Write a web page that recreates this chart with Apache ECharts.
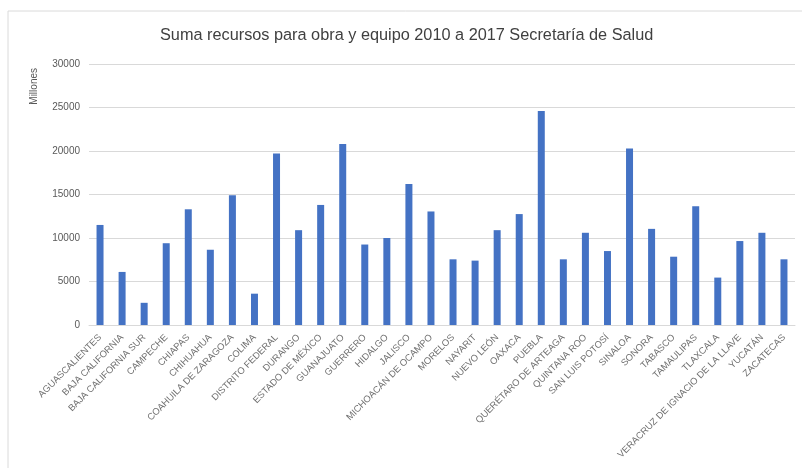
<!DOCTYPE html>
<html>
<head>
<meta charset="utf-8">
<script src="https://cdn.jsdelivr.net/npm/echarts@6/dist/echarts.min.js"></script>
<style>
  html, body { margin: 0; padding: 0; background: #ffffff; }
  #chart { width: 802px; height: 468px; }
</style>
</head>
<body>
<div id="chart"></div>
<script>
// Entidades federativas
const estados = [
  'AGUASCALIENTES', 'BAJA CALIFORNIA', 'BAJA CALIFORNIA SUR', 'CAMPECHE', 'CHIAPAS',
  'CHIHUAHUA', 'COAHUILA DE ZARAGOZA', 'COLIMA', 'DISTRITO FEDERAL', 'DURANGO',
  'ESTADO DE MÉXICO', 'GUANAJUATO', 'GUERRERO', 'HIDALGO', 'JALISCO',
  'MICHOACÁN DE OCAMPO', 'MORELOS', 'NAYARIT', 'NUEVO LEÓN', 'OAXACA',
  'PUEBLA', 'QUERÉTARO DE ARTEAGA', 'QUINTANA ROO', 'SAN LUIS POTOSÍ', 'SINALOA',
  'SONORA', 'TABASCO', 'TAMAULIPAS', 'TLAXCALA', 'VERACRUZ DE IGNACIO DE LA LLAVE',
  'YUCATÁN', 'ZACATECAS'
];

// Recursos para obra y equipo 2010-2017 (millones)
const recursos = [
  11500, 6100, 2550, 9400, 13300,
  8650, 14900, 3600, 19700, 10900,
  13800, 20800, 9250, 10000, 16200,
  13050, 7550, 7400, 10900, 12750,
  24600, 7550, 10600, 8500, 20300,
  11050, 7850, 13650, 5450, 9650,
  10600, 7550
];

const yTicks = { min: 0, max: 30000, interval: 5000 };

const chart = echarts.init(document.getElementById('chart'), null, { renderer: 'canvas' });

chart.setOption({
  backgroundColor: '#ffffff',
  animation: false,
  title: {
    text: 'Suma recursos para obra y equipo 2010 a 2017 Secretaría de Salud',
    left: 155,
    top: 23,
    textStyle: {
      fontFamily: 'Liberation Sans',
      fontSize: 16.3,
      fontWeight: 'normal',
      color: '#404040'
    }
  },
  graphic: [
    {
      type: 'rect',
      shape: { x: 8, y: 11, width: 820, height: 480 },
      style: { fill: 'none', stroke: '#dadada', lineWidth: 1 },
      silent: true,
      z: -1
    },
    {
      type: 'text',
      left: 29,
      top: 68,
      rotation: Math.PI / 2,
      style: {
        text: 'Millones',
        fontFamily: 'Liberation Sans',
        fontSize: 10,
        fill: '#595959'
      }
    }
  ],
  grid: { left: 89, right: 7, top: 64, bottom: 143, containLabel: false },
  xAxis: {
    type: 'category',
    data: estados,
    axisLine: { show: true, lineStyle: { color: '#d9d9d9' } },
    axisTick: { show: false },
    axisLabel: {
      interval: 0,
      rotate: 45,
      margin: 11,
      fontFamily: 'Liberation Sans',
      fontSize: 9.4,
      color: '#707070'
    }
  },
  yAxis: {
    type: 'value',
    min: yTicks.min,
    max: yTicks.max,
    interval: yTicks.interval,
    axisLine: { show: false },
    axisTick: { show: false },
    splitLine: { lineStyle: { color: '#d9d9d9', width: 1 } },
    axisLabel: {
      margin: 9,
      fontFamily: 'Liberation Sans',
      fontSize: 10,
      color: '#595959',
      formatter: (v) => String(v)
    }
  },
  series: [
    {
      type: 'bar',
      data: recursos,
      barWidth: 7,
      itemStyle: { color: '#4472c4' }
    }
  ]
});
</script>
</body>
</html>
